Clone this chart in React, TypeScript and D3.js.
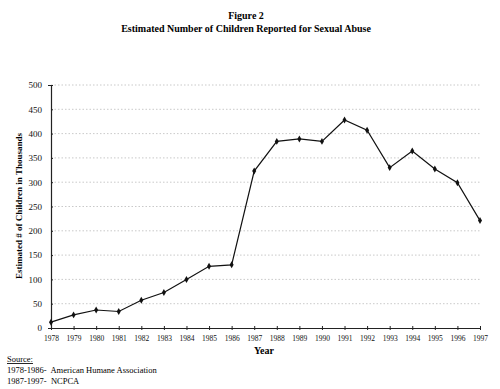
import { useRef, useEffect } from "react";
import * as d3 from "d3";

const years = [1978, 1979, 1980, 1981, 1982, 1983, 1984, 1985, 1986, 1987, 1988, 1989, 1990, 1991, 1992, 1993, 1994, 1995, 1996, 1997];
const children = [12, 27, 37, 34, 57, 73, 100, 127, 130, 323, 384, 389, 384, 428, 407, 330, 364, 327, 299, 221];
const yTicks = [0, 50, 100, 150, 200, 250, 300, 350, 400, 450, 500];
const sourceLines = ["1978-1986-  American Humane Association", "1987-1997-  NCPCA"];

const W = 500;
const H = 389;
const font = "'Liberation Serif', 'Times New Roman', serif";

export default function App() {
  const ref = useRef<SVGSVGElement>(null);

  useEffect(() => {
    const svg = d3.select(ref.current);
    svg.selectAll("*").remove();

    const x = d3.scalePoint<number>().domain(years).range([51, 480]);
    const y = d3.scaleLinear().domain([0, 500]).range([328, 85]);

    // gridlines
    svg.append("g")
      .selectAll("line")
      .data(yTicks.filter(d => d > 0))
      .join("line")
      .attr("x1", 51)
      .attr("x2", 480)
      .attr("y1", d => y(d))
      .attr("y2", d => y(d))
      .attr("stroke", "#bbb")
      .attr("stroke-width", 0.8)
      .attr("stroke-dasharray", "1.5,2");

    // y axis
    const yAxis = svg.append("g")
      .attr("transform", "translate(51,0)")
      .call(d3.axisLeft(y).tickValues(yTicks).tickSize(3).tickPadding(6));
    yAxis.select(".domain").attr("stroke", "#222").attr("stroke-width", 1.2);
    yAxis.selectAll(".tick line").attr("x2", 2).attr("stroke", "#222");
    yAxis.selectAll("text")
      .attr("font-family", font)
      .attr("font-size", 9)
      .attr("fill", "#111");

    // x axis
    const xAxis = svg.append("g")
      .attr("transform", `translate(0,${y(0)})`)
      .call(d3.axisBottom(x).tickSize(2).tickPadding(6).tickSizeOuter(0));
    xAxis.select(".domain").attr("stroke", "#222").attr("stroke-width", 1.2);
    xAxis.selectAll(".tick line").attr("y1", -2).attr("stroke", "#222");
    xAxis.selectAll("text")
      .attr("font-family", font)
      .attr("font-size", 7.5)
      .attr("fill", "#111");

    // line
    const line = d3.line<number>()
      .x((_, i) => x(years[i]) as number)
      .y(d => y(d));

    svg.append("path")
      .datum(children)
      .attr("d", line)
      .attr("fill", "none")
      .attr("stroke", "#111")
      .attr("stroke-width", 1.2);

    svg.append("g")
      .selectAll("path")
      .data(children)
      .join("path")
      .attr("transform", (d, i) => `translate(${x(years[i])},${y(d)})`)
      .attr("d", d3.symbol(d3.symbolDiamond, 14))
      .attr("fill", "#111");

    // titles
    svg.append("text")
      .attr("x", 246).attr("y", 19)
      .attr("text-anchor", "middle")
      .attr("font-family", font).attr("font-weight", "bold").attr("font-size", 10)
      .text("Figure 2");
    svg.append("text")
      .attr("x", 246).attr("y", 32)
      .attr("text-anchor", "middle")
      .attr("font-family", font).attr("font-weight", "bold").attr("font-size", 10)
      .text("Estimated Number of Children Reported for Sexual Abuse");

    svg.append("text")
      .attr("transform", "translate(22,206) rotate(-90)")
      .attr("text-anchor", "middle")
      .attr("font-family", font).attr("font-weight", "bold").attr("font-size", 9)
      .text("Estimated # of Children in Thousands");

    svg.append("text")
      .attr("x", 264).attr("y", 354)
      .attr("text-anchor", "middle")
      .attr("font-family", font).attr("font-weight", "bold").attr("font-size", 10)
      .text("Year");

    // source note
    svg.append("text")
      .attr("x", 7).attr("y", 362)
      .attr("font-family", font).attr("font-size", 8.5)
      .attr("text-decoration", "underline")
      .text("Source:");
    svg.append("g")
      .selectAll("text")
      .data(sourceLines)
      .join("text")
      .attr("x", 7)
      .attr("y", (_, i) => 373 + i * 11)
      .attr("font-family", font).attr("font-size", 8.5)
      .attr("xml:space", "preserve")
      .style("white-space", "pre")
      .text(d => d);
  }, []);

  return (
    <svg
      ref={ref}
      width={W}
      height={H}
      style={{ position: "absolute", left: 0, top: 0, background: "#fff" }}
    />
  );
}
